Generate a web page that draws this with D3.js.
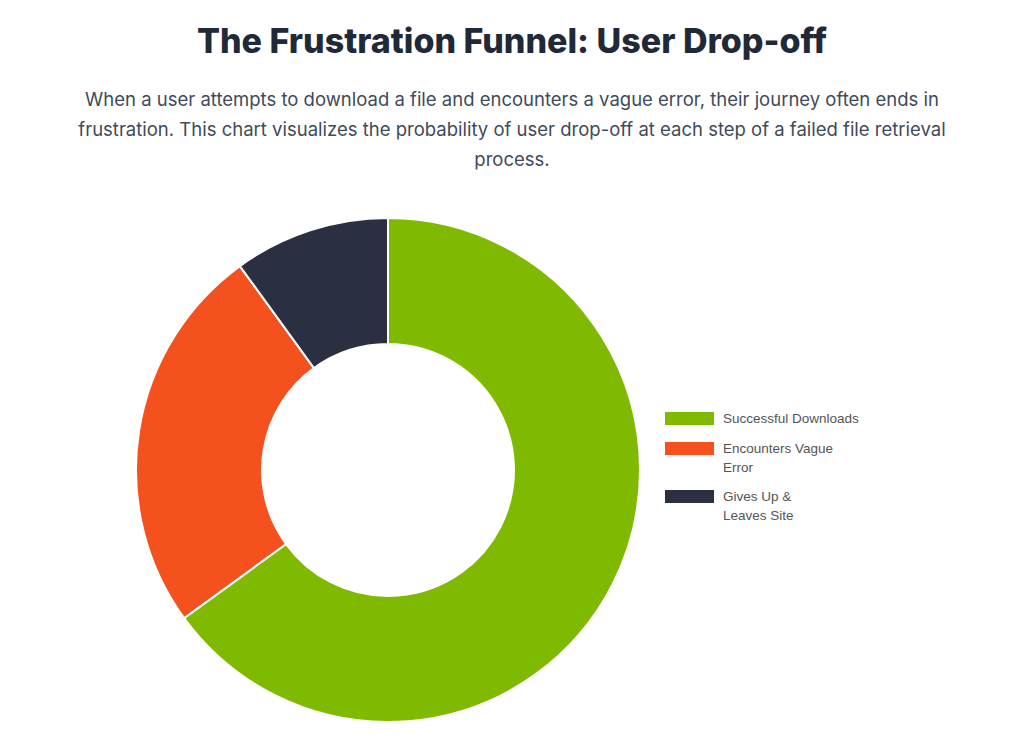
<!DOCTYPE html>
<html>
<head>
<meta charset="utf-8">
<script src="https://cdn.jsdelivr.net/npm/d3@7"></script>
<style>
  body { margin: 0; background: #fff; font-family: Inter, "Noto Sans", sans-serif; }
</style>
</head>
<body>
<svg id="chart" width="1024" height="750"></svg>
<script>
// chart data
var labels = ["Successful Downloads", "Encounters Vague Error", "Gives Up & Leaves Site"];
var legendLines = [["Successful Downloads"], ["Encounters Vague", "Error"], ["Gives Up &", "Leaves Site"]];
var values = [65, 25, 10];
var colors = ["#7fb900", "#f4511e", "#2b2f42"];

var titleText = "The Frustration Funnel: User Drop-off";
var subtitleLines = [
    "When a user attempts to download a file and encounters a vague error, their journey often ends in",
    "frustration. This chart visualizes the probability of user drop-off at each step of a failed file retrieval",
    "process."
];

var svg = d3.select("#chart");

// title
svg.append("text")
    .attr("x", 512).attr("y", 53)
    .attr("text-anchor", "middle")
    .attr("font-size", 34).attr("font-weight", 800)
    .attr("fill", "#1f2937")
    .text(titleText);

// subtitle
svg.append("g").selectAll("text")
    .data(subtitleLines).enter()
    .append("text")
    .attr("x", 512)
    .attr("y", function(d, i){ return 106 + i * 30; })
    .attr("text-anchor", "middle")
    .attr("font-size", 18.5)
    .attr("fill", "#3f4a5a")
    .text(function(d){ return d; });

// donut
var cx = 388, cy = 470, outerR = 252, innerR = 126;
var pie = d3.pie().sort(null).value(function(d){ return d; });
var arc = d3.arc().innerRadius(innerR).outerRadius(outerR);

svg.append("g")
    .attr("transform", "translate(" + cx + "," + cy + ")")
    .selectAll("path")
    .data(pie(values)).enter()
    .append("path")
    .attr("d", arc)
    .attr("fill", function(d, i){ return colors[i]; })
    .attr("stroke", "#fff").attr("stroke-width", 2);

// legend
var legend = svg.append("g").attr("transform", "translate(665,412)");
var ys = [0, 30, 78];
legendLines.forEach(function(lines, i){
    var g = legend.append("g").attr("transform", "translate(0," + ys[i] + ")");
    g.append("rect").attr("width", 49).attr("height", 13).attr("fill", colors[i]);
    lines.forEach(function(l, j){
        g.append("text")
            .attr("x", 58).attr("y", 11 + j * 19)
            .attr("font-family", "Liberation Sans, Arial, sans-serif")
            .attr("font-size", 13.5).attr("fill", "#555")
            .text(l);
    });
});
</script>
</body>
</html>
